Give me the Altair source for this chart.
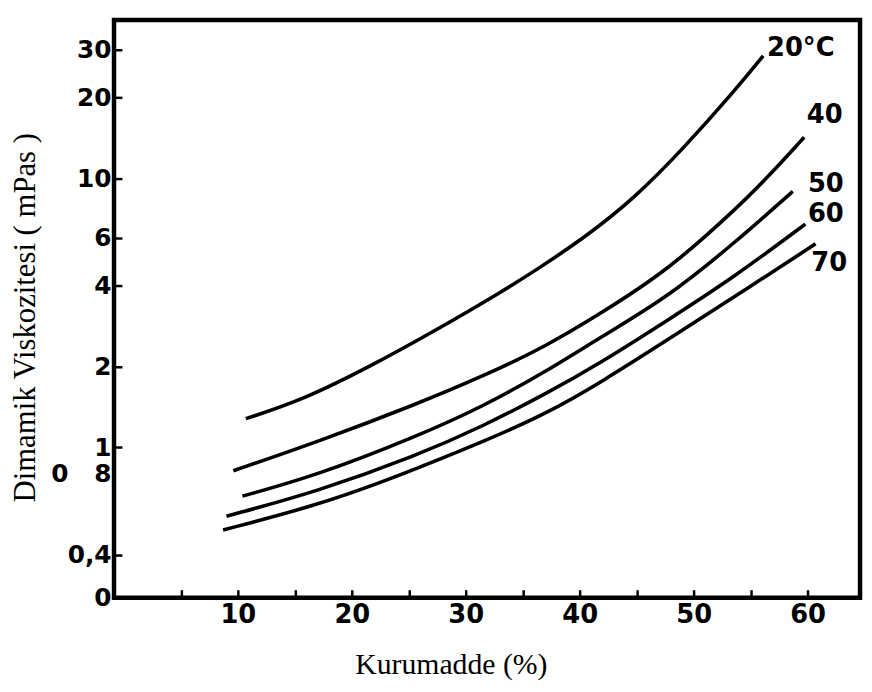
import altair as alt
import pandas as pd

# ---- data (x = Kurumadde %, y = viscosity mPas) ----
c20_x = [10.7, 15.8, 21.6, 27.4, 33.2, 36.1, 40.4, 44.8, 49.1, 53.5, 56.1]
c20_y = [1.28, 1.51, 2.00, 2.73, 3.80, 4.54, 6.01, 8.43, 12.9, 20.9, 28.5]

c40_x = [9.6, 17.0, 25.7, 31.5, 37.0, 41.9, 47.7, 53.5, 56.4, 59.7]
c40_y = [0.82, 1.05, 1.45, 1.84, 2.37, 3.16, 4.54, 7.55, 9.98, 14.2]

c50_x = [10.4, 17.0, 25.7, 31.5, 37.0, 41.9, 47.7, 53.5, 58.7]
c50_y = [0.66, 0.79, 1.10, 1.42, 1.91, 2.58, 3.61, 5.71, 8.94]

c60_x = [9.0, 17.0, 25.7, 31.5, 37.0, 41.9, 47.7, 53.5, 59.8]
c60_y = [0.556, 0.687, 0.933, 1.20, 1.58, 2.07, 2.97, 4.28, 6.76]

c70_x = [8.7, 17.0, 22.8, 25.7, 31.5, 37.0, 41.9, 47.7, 53.5, 60.7]
c70_y = [0.494, 0.611, 0.749, 0.836, 1.05, 1.33, 1.75, 2.51, 3.61, 5.71]

label_text = ["20°C", "40", "50", "60", "70"]
label_x = [59.4, 61.5, 61.6, 61.6, 61.9]
label_y = [30.5, 17.2, 9.54, 7.36, 4.86]

x_tick_values = [10, 20, 30, 40, 50, 60]
x_minor_ticks = [5, 10, 15, 20, 25, 30, 35, 40, 45, 50, 55, 60]
y_tick_values = [0.277, 0.4, 0.8, 1, 2, 4, 6, 10, 20, 30]
y_inner_ticks = [0.4, 1, 2, 4, 6, 10, 20, 30]

series = [("20", c20_x, c20_y), ("40", c40_x, c40_y), ("50", c50_x, c50_y),
          ("60", c60_x, c60_y), ("70", c70_x, c70_y)]
rows = []
for name, xs, ys in series:
    for i, (xv, yv) in enumerate(zip(xs, ys)):
        rows.append({"series": name, "order": i, "x": xv, "y": yv})
df = pd.DataFrame(rows)
labels_df = pd.DataFrame({"text": label_text, "x": label_x, "y": label_y})

W, H = 753, 583
xscale = alt.Scale(domain=[-0.87, 64.6], nice=False, zero=False)
yscale = alt.Scale(type="log", domain=[0.277, 38.7], nice=False)

HAND = "DejaVu Sans"
SERIF = "Liberation Serif"

y_label_expr = ("datum.value < 0.3 ? '0' : datum.value < 0.5 ? '0,4' : "
                "datum.value < 0.9 ? '0\u00a0\u00a0\u00a08' : format(datum.value, '~g')")

lines = alt.Chart(df).mark_line(color="black", strokeWidth=3.6, interpolate="basis").encode(
    x=alt.X("x:Q", scale=xscale,
            axis=alt.Axis(orient="bottom", values=x_tick_values, ticks=False, domain=False,
                          grid=False, labelFont=HAND, labelFontWeight="bold", labelFontSize=26,
                          labelColor="black", labelPadding=4, labelOverlap=False,
                          title="Kurumadde (%)", titleFont=SERIF, titleFontWeight="normal",
                          titleFontSize=30, titleColor="black", titleX=340, titleY=68,
                          titleAlign="center", titleBaseline="middle")),
    y=alt.Y("y:Q", scale=yscale,
            axis=alt.Axis(orient="left", values=y_tick_values, labelExpr=y_label_expr,
                          ticks=False, domain=False, grid=False, labelFont=HAND,
                          labelFontWeight="bold", labelFontSize=25, labelColor="black",
                          labelPadding=3, labelOverlap=False,
                          title="Dimamik Viskozitesi ( mPas )", titleFont=SERIF,
                          titleFontWeight="normal", titleFontSize=31, titleColor="black",
                          titleX=-89, titleY=300, titleAlign="center", titleBaseline="middle",
                          titleAngle=-90)),
    detail="series:N",
    order="order:Q",
)

texts = alt.Chart(labels_df).mark_text(font=HAND, fontWeight="bold", fontSize=26,
                                       color="black", align="center", baseline="middle").encode(
    x=alt.X("x:Q", scale=xscale,
            axis=alt.Axis(orient="top", offset=-H, values=x_minor_ticks, labels=False,
                          domain=False, grid=False, ticks=True, tickSize=8, tickWidth=2.5,
                          tickColor="black", title=None)),
    y=alt.Y("y:Q", scale=yscale,
            axis=alt.Axis(orient="right", offset=-W, values=y_inner_ticks, labels=False,
                          domain=False, grid=False, ticks=True, tickSize=8, tickWidth=2.5,
                          tickColor="black", title=None)),
    text="text:N",
)

chart = alt.layer(lines, texts).properties(
    width=W, height=H,
    autosize=alt.AutoSizeParams(type="none"),
    padding={"left": 107, "top": 9, "right": 4, "bottom": 84},
    background="white",
).configure_view(stroke="black", strokeWidth=4.5)

chart.save("out.html", embed_options={"renderer": "svg", "actions": False})
